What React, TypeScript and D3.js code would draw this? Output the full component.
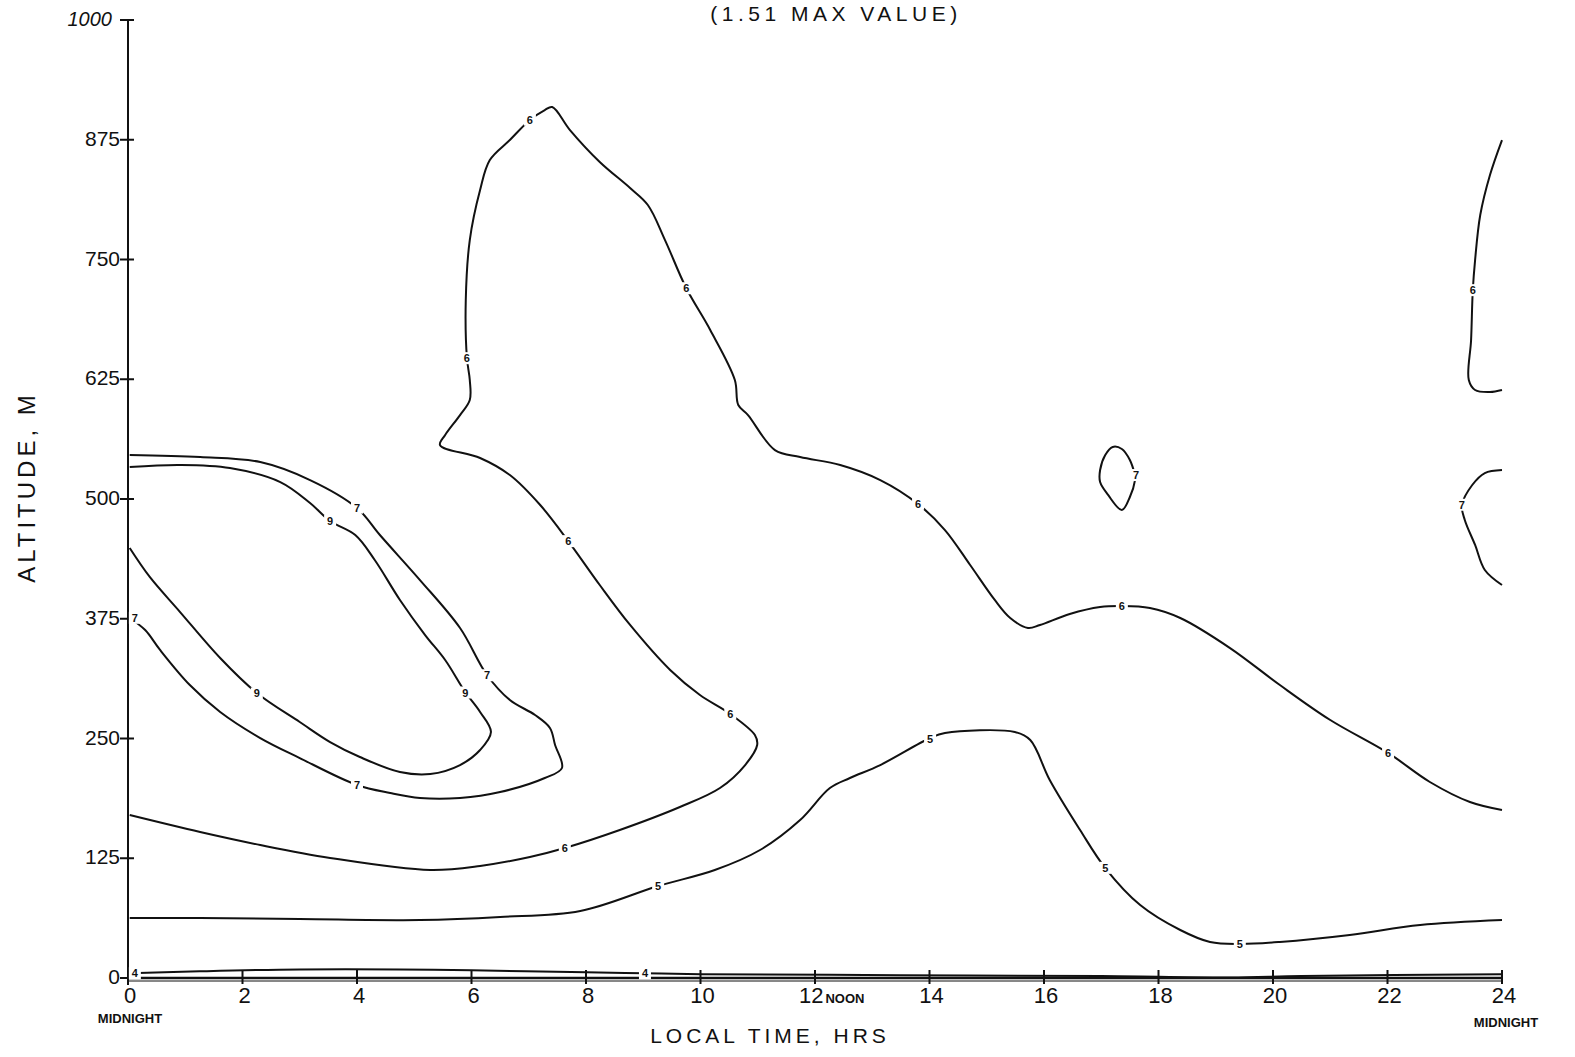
import React from "react";
import * as d3 from "d3";

type Pt = [number, number]; // [local hour, altitude m]

const hourTicks = [0, 2, 4, 6, 8, 10, 12, 14, 16, 18, 20, 22, 24];
const altTicks = [0, 125, 250, 375, 500, 625, 750, 875, 1000];

const contour4: Pt[] = [
  [0.03, 5], [1.25, 7], [3, 9], [4.75, 9], [6, 8], [8, 6], [9, 5], [10, 4],
  [13.5, 3], [17, 2], [19.25, 0.5], [20.5, 2], [24, 4],
];

const contour5: Pt[] = [
  [0.03, 62.6], [1.26, 62.6], [3.0, 61.6], [5.1, 60.5], [6.5, 63.7], [7.9, 69.9],
  [9.26, 96], [10.25, 112.7], [11.04, 133.6], [11.74, 164.9], [12.26, 198.3],
  [12.61, 208.8], [13.14, 222.3], [14.01, 250.5], [14.27, 255.7], [15.49, 256.8],
  [15.76, 248.4], [16.1, 206.7], [16.63, 154.5], [17.07, 114.8], [17.68, 76.2],
  [18.38, 50.1], [18.9, 37.6], [19.42, 35.5], [20.12, 37.6], [21.34, 44.9],
  [22.57, 55.3], [24, 60.5],
];

const contour6Main: Pt[] = [
  [0.03, 170.1], [1.26, 152.4], [2.31, 138.8], [3.53, 125.3], [5.28, 112.7],
  [6.15, 116.9], [7.02, 126.3], [7.63, 135.7], [8.59, 154.5], [9.64, 178.5],
  [10.34, 198.3], [10.78, 222.3], [10.99, 243.2], [10.95, 253.6], [10.52, 275.6],
  [9.99, 295.4], [9.47, 321.5], [8.77, 368.5], [8.24, 410.2], [7.69, 456.1],
  [7.2, 493.7], [6.67, 525.0], [6.15, 542.8], [5.45, 556.3], [5.54, 566.8],
  [5.8, 587.6], [5.97, 603.3], [5.97, 624.2], [5.92, 647.2], [5.9, 707.7],
  [5.97, 770.3], [6.15, 822.5], [6.32, 853.8], [6.67, 874.7], [7.02, 895.6],
  [7.28, 906.0], [7.41, 909.2], [7.72, 885.1], [8.24, 851.8], [8.77, 824.6],
  [9.08, 806.9], [9.38, 770.3], [9.75, 720.2], [10.17, 676.4], [10.6, 624.2],
  [10.66, 598.1], [10.83, 587.6], [11.3, 551.1], [11.74, 543.8], [12.44, 535.5],
  [13.14, 519.8], [13.8, 494.8], [14.27, 467.6], [14.71, 431.1], [15.14, 394.6],
  [15.41, 375.8], [15.72, 365.3], [15.93, 368.5], [16.45, 379.9], [16.98, 387.2],
  [17.36, 388.3], [17.85, 386.2], [18.38, 375.8], [19.25, 344.4], [20.12, 305.8],
  [21.0, 269.3], [22.01, 234.9], [22.74, 204.6], [23.44, 183.7], [24, 175.4],
];

const contour6Edge: Pt[] = [
  [24, 874.7], [23.79, 838.2], [23.62, 796.4], [23.53, 749.4], [23.49, 718.1],
  [23.46, 665.9], [23.42, 624.2], [23.53, 613.8], [23.79, 611.7], [24, 613.8],
];

const contour7Main: Pt[] = [
  [0.03, 545.9], [1.26, 543.8], [2.31, 538.6], [3.18, 519.8], [4.0, 490.6],
  [4.4, 462.4], [5.1, 415.4], [5.8, 365.3], [6.27, 316.3], [6.67, 290.2],
  [7.11, 274.5], [7.37, 261], [7.46, 243.2], [7.58, 219.2], [7.28, 208.8],
  [6.5, 194.1], [5.8, 187.9], [5.1, 187.9], [4.58, 193.1], [4.0, 201.5],
  [3.0, 229.6], [2.31, 250.5], [1.61, 277.7], [1.08, 305.8], [0.56, 342.4],
  [0.3, 363.2], [0.03, 375.8],
];

const contour7Island: Pt[] = [
  [17.59, 525], [17.5, 540.7], [17.36, 552.2], [17.2, 554.3], [17.07, 545.9],
  [16.98, 530.3], [16.98, 517.7], [17.12, 504.2], [17.36, 488.5], [17.5, 502.1],
  [17.59, 519.8], [17.59, 525],
];

const contour7Edge: Pt[] = [
  [24, 530.3], [23.7, 527.1], [23.48, 514.6], [23.3, 493.7], [23.35, 478.1],
  [23.53, 452], [23.7, 425.9], [24, 410.2],
];

const contour9: Pt[] = [
  [0.03, 533.4], [0.91, 535.5], [1.78, 532.3], [2.66, 517.7], [3.18, 495.8],
  [3.53, 477], [3.97, 462.4], [4.31, 436.3], [4.75, 394.6], [5.19, 358],
  [5.54, 331.9], [5.89, 298.5], [6.15, 277.7], [6.34, 256.8], [6.15, 238.0],
  [5.8, 222.3], [5.28, 212.9], [4.75, 215], [4.05, 230.7], [3.53, 246.3],
  [3.0, 267.2], [2.25, 297.5], [1.61, 334], [0.91, 382], [0.38, 418.6], [0.03, 448.8],
];

const contourLines: Pt[][] = [
  contour4, contour5, contour6Main, contour6Edge, contour7Main,
  contour7Island, contour7Edge, contour9,
];

// Inline contour labels: [hour, altitude, text]
const contourLabels: [number, number, string][] = [
  [0.12, 5, "4"], [9.03, 5, "4"],
  [9.26, 96, "5"], [14.01, 250, "5"], [17.07, 115, "5"], [19.42, 35.5, "5"],
  [7.63, 136, "6"], [10.52, 276, "6"], [7.69, 456, "6"], [5.92, 647, "6"],
  [7.02, 896, "6"], [9.75, 720, "6"], [13.8, 495, "6"], [17.36, 388, "6"],
  [22.01, 235, "6"], [23.49, 718, "6"],
  [4.0, 491, "7"], [6.27, 316, "7"], [4.0, 201, "7"], [0.12, 376, "7"],
  [17.61, 525, "7"], [23.3, 494, "7"],
  [3.53, 477, "9"], [5.89, 298, "9"], [2.25, 297, "9"],
];

const FONT = "'Liberation Sans', 'DejaVu Sans', Arial, sans-serif";

export default function App() {
  const x = d3.scaleLinear().domain([0, 24]).range([128, 1502]);
  const y = d3.scaleLinear().domain([0, 1000]).range([978, 20]);
  const line = d3
    .line<Pt>()
    .x((d) => x(d[0]))
    .y((d) => y(d[1]))
    .curve(d3.curveCatmullRom.alpha(0.5));

  return (
    <svg
      width={1575}
      height={1057}
      style={{ position: "absolute", left: 0, top: 0, background: "#fff" }}
      fontFamily={FONT}
    >
      <rect width={1575} height={1057} fill="#fff" />

      {/* title */}
      <text x={836} y={21} fontSize={21} textAnchor="middle" letterSpacing={4.5} fill="#111">
        (1.51 MAX VALUE)
      </text>

      {/* contours */}
      {contourLines.map((pts, i) => (
        <path key={i} d={line(pts) ?? ""} fill="none" stroke="#111" strokeWidth={2} />
      ))}

      {/* axes */}
      <line x1={x(0)} x2={x(0)} y1={y(1000)} y2={985} stroke="#111" strokeWidth={2} />
      <line x1={x(0)} x2={x(24)} y1={y(0)} y2={y(0)} stroke="#111" strokeWidth={2.5} />
      <line x1={x(0)} x2={x(24)} y1={y(0) + 3} y2={y(0) + 3} stroke="#111" strokeWidth={1} />

      {altTicks.map((a) => (
        <g key={a}>
          <line x1={x(0) - 8} x2={x(0) + 6} y1={y(a)} y2={y(a)} stroke="#111" strokeWidth={2} />
          <text
            x={a === 1000 ? 112 : 120}
            y={y(a) + 6}
            fontSize={a === 1000 ? 20 : 21}
            fontStyle={a === 1000 ? "italic" : "normal"}
            textAnchor="end"
            fill="#111"
          >
            {a}
          </text>
        </g>
      ))}

      {hourTicks.map((h) => (
        <g key={h}>
          <line x1={x(h)} x2={x(h)} y1={y(0) - 8} y2={y(0) + 6} stroke="#111" strokeWidth={2} />
          {h === 12 ? (
            <text x={x(h) - 16} y={1003} fontSize={22} fill="#111">
              12
              <tspan fontSize={13} fontWeight="bold" dx={2}>NOON</tspan>
            </text>
          ) : (
            <text x={x(h) + 2} y={1003} fontSize={22} textAnchor="middle" fill="#111">
              {h}
            </text>
          )}
        </g>
      ))}

      <text x={130} y={1023} fontSize={13} fontWeight="bold" textAnchor="middle" fill="#111">
        MIDNIGHT
      </text>
      <text x={1506} y={1027} fontSize={13} fontWeight="bold" textAnchor="middle" fill="#111">
        MIDNIGHT
      </text>

      <text x={770} y={1043} fontSize={21} textAnchor="middle" letterSpacing={4} fill="#111">
        LOCAL TIME, HRS
      </text>
      <text
        transform="translate(35,487) rotate(-90)"
        fontSize={24}
        textAnchor="middle"
        letterSpacing={4}
        fill="#111"
      >
        ALTITUDE, M
      </text>

      {/* inline contour labels */}
      {contourLabels.map(([h, a, t], i) => (
        <g key={i} transform={`translate(${x(h)},${y(a)})`}>
          <rect x={-6} y={-6} width={12} height={12} fill="#fff" />
          <text x={0} y={4} fontSize={11} fontWeight="bold" textAnchor="middle" fill="#111">
            {t}
          </text>
        </g>
      ))}
    </svg>
  );
}
